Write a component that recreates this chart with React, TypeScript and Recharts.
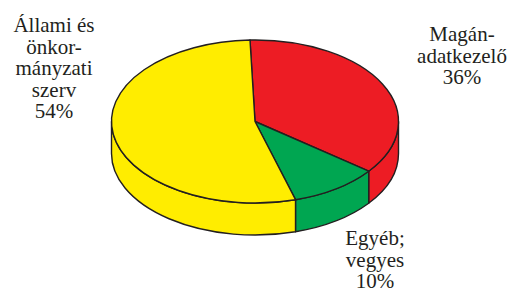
import React from 'react';
import { PieChart, Pie } from 'recharts';

// Adatkezelők megoszlása
const categories = ['Magán-\nadatkezelő', 'Egyéb;\nvegyes', 'Állami és\nönkor-\nmányzati\nszerv'];
const shares = [36, 10, 54];
const colors = ['#ED1C24', '#00A651', '#FFED00'];

const data = categories.map((name, i) => ({ name, value: shares[i], fill: colors[i] }));

const OUTLINE = '#231F20';
const SQUASH = 0.568; // ry / rx of the tilted disc
const DEPTH = 32;
const RAD = Math.PI / 180;
const SERIF = 'Times New Roman, Liberation Serif, Tinos, serif';

// label anchors: centre x, first-line baseline y
const labelPos = [
  { x: 462, y: 41 },
  { x: 375, y: 245 },
  { x: 54, y: 32 },
];

const pt = (cx: number, cy: number, rx: number, ry: number, a: number) => ({
  x: cx + rx * Math.cos(a * RAD),
  y: cy - ry * Math.sin(a * RAD),
});

const TopFace = (props: any) => {
  const { cx, cy, outerRadius, startAngle, endAngle, fill } = props;
  const rx = outerRadius;
  const ry = outerRadius * SQUASH;
  const p1 = pt(cx, cy, rx, ry, startAngle);
  const p2 = pt(cx, cy, rx, ry, endAngle);
  const large = Math.abs(startAngle - endAngle) > 180 ? 1 : 0;
  const sweep = startAngle > endAngle ? 1 : 0;
  const d = `M${cx},${cy} L${p1.x},${p1.y} A${rx},${ry} 0 ${large} ${sweep} ${p2.x},${p2.y} Z`;
  return <path d={d} fill={fill} stroke={OUTLINE} strokeWidth={1.4} strokeLinejoin="round" />;
};

const SideWall = (props: any) => {
  const { cx, cy, outerRadius, startAngle, endAngle, fill } = props;
  const rx = outerRadius;
  const ry = outerRadius * SQUASH;
  const hiA = Math.max(startAngle, endAngle);
  const loA = Math.min(startAngle, endAngle);
  const parts: [number, number][] = [];
  for (const k of [-360, 0, 360]) {
    const lo = Math.max(loA, -180 + k);
    const hi = Math.min(hiA, k);
    if (hi > lo) parts.push([lo, hi]);
  }
  return (
    <g>
      {parts.map(([lo, hi], i) => {
        const a = pt(cx, cy, rx, ry, hi);
        const b = pt(cx, cy, rx, ry, lo);
        const d = `M${a.x},${a.y} A${rx},${ry} 0 0 1 ${b.x},${b.y} L${b.x},${b.y + DEPTH} A${rx},${ry} 0 0 0 ${a.x},${a.y + DEPTH} Z`;
        return <path key={i} d={d} fill={fill} stroke={OUTLINE} strokeWidth={1.4} strokeLinejoin="round" />;
      })}
    </g>
  );
};

const Labels = () => (
  <svg width={510} height={289} style={{ position: 'absolute', left: 0, top: 0 }}>
    {categories.map((cat, idx) => {
      const pos = labelPos[idx];
      const lines = cat.split('\n').concat(`${shares[idx]}%`);
      return (
        <text key={idx} textAnchor="middle" fontFamily={SERIF} fontSize={21} fill="#231F20">
          {lines.map((l, i) => (
            <tspan key={i} x={pos.x} y={pos.y + i * 21.5}>
              {l}
            </tspan>
          ))}
        </text>
      );
    })}
  </svg>
);

export default function App() {
  return (
    <div style={{ position: 'absolute', left: 0, top: 0, width: 510, height: 289, background: '#fff', overflow: 'hidden' }}>
      <PieChart width={510} height={289} margin={{ top: 0, right: 0, bottom: 0, left: 0 }}>
        <Pie
          data={data}
          dataKey="value"
          cx={255}
          cy={121.5}
          outerRadius={143.5}
          startAngle={92}
          endAngle={-268}
          shape={SideWall}
          labelLine={false}
          isAnimationActive={false}
        />
        <Pie
          data={data}
          dataKey="value"
          cx={255}
          cy={121.5}
          outerRadius={143.5}
          startAngle={92}
          endAngle={-268}
          shape={TopFace}
          labelLine={false}
          isAnimationActive={false}
        />
      </PieChart>
      <Labels />
    </div>
  );
}
